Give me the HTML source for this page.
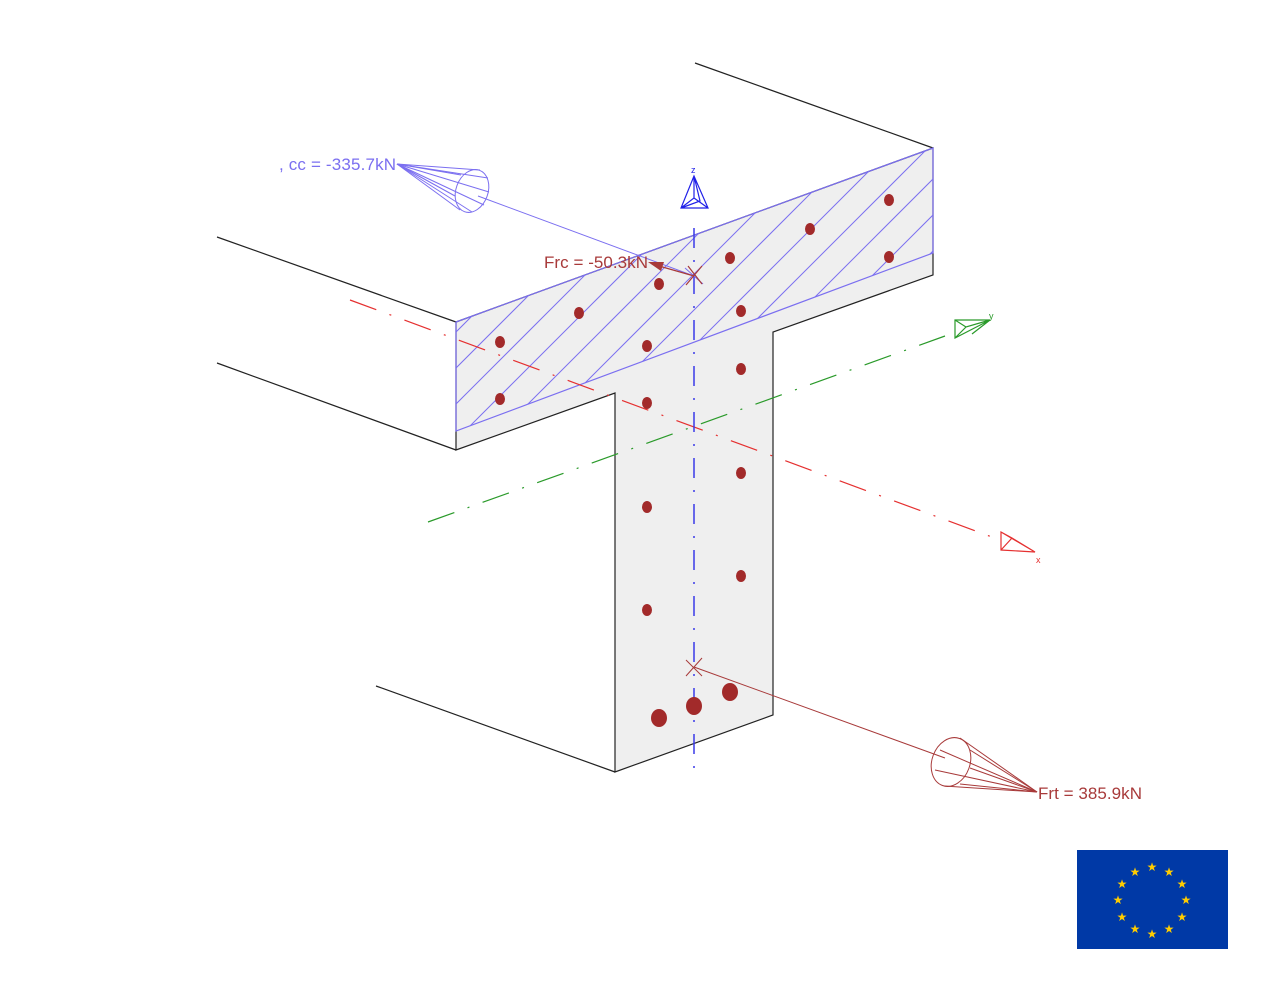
<!DOCTYPE html>
<html><head><meta charset="utf-8"><style>body{margin:0;background:#fff}svg{display:block}</style></head><body>
<svg width="1280" height="1000" viewBox="0 0 1280 1000" xmlns="http://www.w3.org/2000/svg" font-family="Liberation Sans, sans-serif">
<defs>
<clipPath id="fl"><polygon points="456,322 933,148 933,253 456,431"/></clipPath>
</defs>
<g stroke="#222" stroke-width="1.2" fill="none">
<line x1="217" y1="237" x2="456" y2="322"/>
<line x1="217" y1="363" x2="456" y2="450"/>
<line x1="376" y1="686" x2="615" y2="772"/>
<line x1="695" y1="63" x2="933" y2="148"/>
</g>
<polygon points="456,322 933,148 933,275 773,332 773,715 615,772 615,393 456,450" fill="#efefef" stroke="#222" stroke-width="1.2"/>
<g clip-path="url(#fl)" stroke="#7b6ff0" stroke-width="1">
<line x1="300" y1="560" x2="760" y2="100"/>
<line x1="336" y1="560" x2="796" y2="100"/>
<line x1="372" y1="560" x2="832" y2="100"/>
<line x1="408" y1="560" x2="868" y2="100"/>
<line x1="444" y1="560" x2="904" y2="100"/>
<line x1="480" y1="560" x2="940" y2="100"/>
<line x1="516" y1="560" x2="976" y2="100"/>
<line x1="552" y1="560" x2="1012" y2="100"/>
<line x1="588" y1="560" x2="1048" y2="100"/>
<line x1="624" y1="560" x2="1084" y2="100"/>
<line x1="660" y1="560" x2="1120" y2="100"/>
<line x1="696" y1="560" x2="1156" y2="100"/>
<line x1="732" y1="560" x2="1192" y2="100"/>
<line x1="768" y1="560" x2="1228" y2="100"/>
<line x1="804" y1="560" x2="1264" y2="100"/>
<line x1="264" y1="560" x2="724" y2="100"/>
<line x1="228" y1="560" x2="688" y2="100"/>
</g>
<polygon points="456,322 933,148 933,253 456,431" fill="none" stroke="#7b6ff0" stroke-width="1.2"/>
<line x1="350" y1="300" x2="1000" y2="540" stroke="#e53030" stroke-width="1.2" stroke-dasharray="28,14,2,14"/>
<line x1="428" y1="522" x2="945" y2="336" stroke="#2a9a2a" stroke-width="1.2" stroke-dasharray="28,14,2,14"/>
<line x1="694" y1="228" x2="694" y2="772" stroke="#3a3ae8" stroke-width="1.5" stroke-dasharray="20,12,2,12"/>
<g fill="none" stroke-width="1.2">
<path d="M694 176 L681 208 L708 208 Z M694 176 L694 198 L681 208 M694 198 L708 208 M694 176 L700 201 L681 208" stroke="#2020e8"/>
<path d="M990 320 L955 320 L955 338 Z M990 320 L966 327 L955 320 M966 327 L955 338 M990 320 L972 334" stroke="#2a9a2a"/>
<path d="M1035 552 L1001 532 L1001 550 Z M1035 552 L1012 538 L1001 532 M1012 538 L1001 550" stroke="#e53030"/>
</g>
<text x="691" y="173" font-size="9" fill="#2020e8">z</text>
<text x="989" y="319" font-size="9" fill="#2a9a2a">y</text>
<text x="1036" y="563" font-size="9" fill="#e53030">x</text>
<g fill="#a22a2a">
<ellipse cx="500" cy="342" rx="5" ry="6"/><ellipse cx="579" cy="313" rx="5" ry="6"/><ellipse cx="659" cy="284" rx="5" ry="6"/><ellipse cx="730" cy="258" rx="5" ry="6"/><ellipse cx="810" cy="229" rx="5" ry="6"/><ellipse cx="889" cy="200" rx="5" ry="6"/>
<ellipse cx="500" cy="399" rx="5" ry="6"/><ellipse cx="647" cy="346" rx="5" ry="6"/><ellipse cx="741" cy="311" rx="5" ry="6"/><ellipse cx="889" cy="257" rx="5" ry="6"/>
<ellipse cx="647" cy="403" rx="5" ry="6"/><ellipse cx="741" cy="369" rx="5" ry="6"/><ellipse cx="741" cy="473" rx="5" ry="6"/><ellipse cx="647" cy="507" rx="5" ry="6"/><ellipse cx="741" cy="576" rx="5" ry="6"/><ellipse cx="647" cy="610" rx="5" ry="6"/>
<ellipse cx="659" cy="718" rx="8" ry="9"/><ellipse cx="694" cy="706" rx="8" ry="9"/><ellipse cx="730" cy="692" rx="8" ry="9"/>
</g>
<g stroke="#7b6ff0" stroke-width="1" fill="none">
<line x1="478" y1="196" x2="694" y2="276"/>
<line x1="685" y1="268" x2="703" y2="284"/>
<ellipse cx="472" cy="191" rx="16" ry="22" transform="rotate(20 472 191)"/>
<line x1="397" y1="164" x2="480" y2="170"/><line x1="397" y1="164" x2="488" y2="178"/><line x1="397" y1="164" x2="489" y2="192"/><line x1="397" y1="164" x2="484" y2="205"/><line x1="397" y1="164" x2="472" y2="212"/><line x1="397" y1="164" x2="460" y2="210"/><line x1="397" y1="164" x2="455" y2="196"/><line x1="397" y1="164" x2="461" y2="175"/>
</g>
<text x="279" y="170" font-size="17" fill="#7b6ff0" textLength="117">, cc = -335.7kN</text>
<g stroke="#a83a3a" stroke-width="1.2" fill="none">
<line x1="652" y1="264" x2="694" y2="276"/><line x1="688" y1="266" x2="702" y2="284"/><line x1="686" y1="285" x2="702" y2="266"/>
</g>
<polygon points="648,262 664,262 661,271" fill="#a83a3a"/>
<text x="544" y="268" font-size="17" fill="#a83a3a" textLength="104">Frc = -50.3kN</text>
<g stroke="#a83a3a" stroke-width="1" fill="none">
<line x1="694" y1="667" x2="945" y2="758"/>
<line x1="686" y1="676" x2="702" y2="658"/><line x1="686" y1="660" x2="702" y2="676"/>
<ellipse cx="951" cy="762" rx="19" ry="25" transform="rotate(20 951 762)"/>
<line x1="1037" y1="792" x2="960" y2="738"/><line x1="1037" y1="792" x2="970" y2="750"/><line x1="1037" y1="792" x2="970" y2="768"/><line x1="1037" y1="792" x2="960" y2="784"/><line x1="1037" y1="792" x2="944" y2="786"/><line x1="1037" y1="792" x2="935" y2="770"/><line x1="1037" y1="792" x2="940" y2="750"/>
</g>
<text x="1038" y="799" font-size="17" fill="#a83a3a" textLength="104">Frt = 385.9kN</text>
<rect x="1077" y="850" width="151" height="99" fill="#0039a6"/>
<g fill="#ffcc00" font-size="12" text-anchor="middle">
<text x="1152" y="871">★</text><text x="1169" y="876">★</text><text x="1182" y="888">★</text><text x="1186" y="904">★</text><text x="1182" y="921">★</text><text x="1169" y="933">★</text><text x="1152" y="938">★</text><text x="1135" y="933">★</text><text x="1122" y="921">★</text><text x="1118" y="904">★</text><text x="1122" y="888">★</text><text x="1135" y="876">★</text>
</g>
</svg>
</body></html>
